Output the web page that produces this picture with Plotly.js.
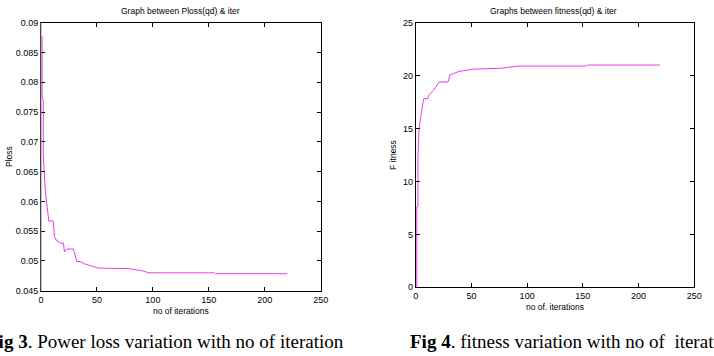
<!DOCTYPE html>
<html>
<head>
<meta charset="utf-8">
<script src="https://cdn.plot.ly/plotly-3.0.1.min.js"></script>
<style>
html,body{margin:0;padding:0;background:#fff;}
#chart{width:714px;height:356px;}
</style>
</head>
<body>
<div id="chart"></div>
<script>
// Fig 3: power loss vs iterations
var plossIter = [1, 1, 2, 2, 4, 6, 7, 11, 12, 14, 17, 20, 21, 23, 29, 32, 35, 39, 45, 51, 78, 87, 92, 96, 155, 156, 220];
var plossVal  = [0.0877, 0.0775, 0.0770, 0.0677, 0.0614, 0.0586, 0.0567, 0.0567, 0.0541, 0.0534, 0.0530, 0.0530, 0.0515, 0.0520, 0.0520, 0.0499, 0.0499, 0.0495, 0.0491, 0.0488, 0.0487, 0.0485, 0.0483, 0.0480, 0.0480, 0.04785, 0.04785];

// Fig 4: fitness vs iterations
var fitIter = [1, 1, 2, 2, 3, 4, 5, 7, 11, 12, 16, 18, 21, 29, 31, 34, 39, 45, 51, 77, 92, 153, 154, 219];
var fitVal  = [0, 7.6, 7.6, 12.2, 15.0, 15.6, 16.4, 17.8, 17.85, 18.2, 18.6, 18.9, 19.4, 19.4, 20.1, 20.2, 20.4, 20.5, 20.6, 20.7, 20.9, 20.9, 21.0, 21.0];

var xTicks = [0, 50, 100, 150, 200, 250];
var plossTicks = [0.045, 0.05, 0.055, 0.06, 0.065, 0.07, 0.075, 0.08, 0.085, 0.09];
var fitTicks = [0, 5, 10, 15, 20, 25];

var titles = {
  left: "Graph between Ploss(qd) & iter",
  right: "Graphs between fitness(qd) & iter",
  xLeft: "no of iterations",
  xRight: "no of. iterations",
  yLeft: "Ploss",
  yRight: "F itness",
  capLeft: "<b>Fig 3</b>. Power loss variation with no of iteration",
  capRight: "<b>Fig 4</b>. fitness variation with no of  iteration"
};

var W = 714, H = 356;
function px(x){return x / W;}
function py(y){return 1 - y / H;}

var lineColor = '#e63ce6';
var tickFont = {family: 'Liberation Sans, Arial, sans-serif', size: 9, color: '#000'};
var labFont = {family: 'Liberation Sans, Arial, sans-serif', size: 8.5, color: '#000'};

function axisCommon(extra){
  var a = {
    showgrid: false, zeroline: false, showline: true, linecolor: '#000', linewidth: 1,
    mirror: 'ticks', ticks: 'inside', ticklen: 4, tickcolor: '#000', tickwidth: 1,
    tickfont: tickFont, automargin: false, fixedrange: true
  };
  for (var k in extra) a[k] = extra[k];
  return a;
}

var data = [
  {x: plossIter, y: plossVal, type: 'scatter', mode: 'lines', line: {color: lineColor, width: 1}, xaxis: 'x', yaxis: 'y', showlegend: false},
  {x: fitIter, y: fitVal, type: 'scatter', mode: 'lines', line: {color: lineColor, width: 1}, xaxis: 'x2', yaxis: 'y2', showlegend: false}
];

var layout = {
  width: W, height: H,
  margin: {l: 0, r: 0, t: 0, b: 0},
  paper_bgcolor: '#fff', plot_bgcolor: '#fff',
  showlegend: false,
  xaxis: axisCommon({domain: [px(41), px(320.7)], range: [0, 250], tickvals: xTicks, anchor: 'y',
    title: {text: titles.xLeft, font: labFont, standoff: 4}}),
  yaxis: axisCommon({domain: [py(290.7), py(22.7)], range: [0.045, 0.09], tickvals: plossTicks, anchor: 'x',
    title: {text: titles.yLeft, font: labFont, standoff: 1}}),
  xaxis2: axisCommon({domain: [px(415.7), px(694.3)], range: [0, 250], tickvals: xTicks, anchor: 'y2',
    title: {text: titles.xRight, font: labFont, standoff: 3}}),
  yaxis2: axisCommon({domain: [py(287.3), py(22.7)], range: [0, 25], tickvals: fitTicks, anchor: 'x2',
    title: {text: titles.yRight, font: labFont, standoff: 4}}),
  shapes: [
    {type: 'line', xref: 'x domain', yref: 'y domain', x0: 0, x1: 0, y0: 0, y1: 1, line: {color: '#8a8a8a', width: 1}}
  ],
  annotations: [
    {text: titles.left, xref: 'paper', yref: 'paper', x: px(180), y: py(11), xanchor: 'center', yanchor: 'middle', showarrow: false, font: labFont},
    {text: titles.right, xref: 'paper', yref: 'paper', x: px(553), y: py(11), xanchor: 'center', yanchor: 'middle', showarrow: false, font: labFont},
    {text: titles.capLeft, xref: 'paper', yref: 'paper', x: px(346), y: py(341), xanchor: 'right', yanchor: 'middle', showarrow: false,
      font: {family: 'Liberation Serif, DejaVu Serif, serif', size: 19, color: '#000'}},
    {text: titles.capRight, xref: 'paper', yref: 'paper', x: px(408), y: py(341), xanchor: 'left', yanchor: 'middle', showarrow: false,
      font: {family: 'Liberation Serif, DejaVu Serif, serif', size: 19, color: '#000'}}
  ]
};

Plotly.newPlot('chart', data, layout, {displayModeBar: false, staticPlot: true});
</script>
</body>
</html>
